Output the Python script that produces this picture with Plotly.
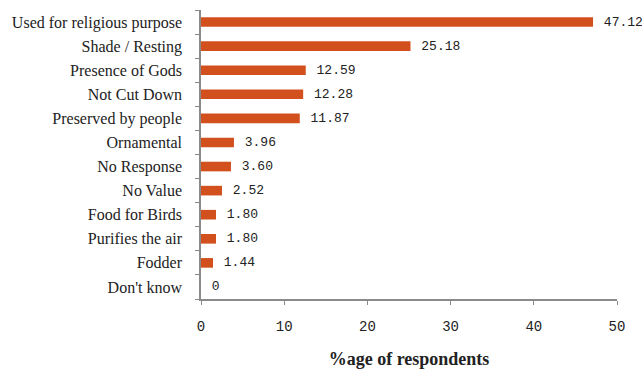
import plotly.graph_objects as go

# Reasons given for protecting the tree, share of respondents (%)
categories = [
    "Used for religious purpose",
    "Shade / Resting",
    "Presence of Gods",
    "Not Cut Down",
    "Preserved by people",
    "Ornamental",
    "No Response",
    "No Value",
    "Food for Birds",
    "Purifies the air",
    "Fodder",
    "Don't know",
]
values = [47.12, 25.18, 12.59, 12.28, 11.87, 3.96, 3.60, 2.52, 1.80, 1.80, 1.44, 0]
x_ticks = [0, 10, 20, 30, 40, 50]

labels = [" " + ("0" if v == 0 else f"{v:.2f}") for v in values]

BAR = "#D2501E"
AXIS = "#8a8a8a"
TEXT = "#222222"
SERIF = "Liberation Serif, DejaVu Serif, serif"
MONO = "Liberation Mono, DejaVu Sans Mono, monospace"

fig = go.Figure(
    go.Bar(
        x=values,
        y=categories,
        orientation="h",
        marker=dict(color=BAR, line=dict(width=0)),
        text=labels,
        textposition="outside",
        constraintext="none",
        cliponaxis=False,
        textfont=dict(family=MONO, size=13, color=TEXT),
    )
)

fig.update_layout(
    width=642,
    height=376,
    margin=dict(l=201, r=25, t=10, b=73),
    paper_bgcolor="white",
    plot_bgcolor="white",
    bargap=0.6,
    showlegend=False,
    font=dict(family=SERIF, size=15, color=TEXT),
)

fig.update_yaxes(
    categoryorder="array",
    categoryarray=categories[::-1],
    showline=True,
    linecolor=AXIS,
    linewidth=1.5,
    ticks="outside",
    tickson="boundaries",
    ticklen=4,
    tickcolor=AXIS,
    showgrid=False,
    ticklabelstandoff=14,
    tickfont=dict(family=SERIF, size=16, color=TEXT),
)

fig.update_xaxes(
    range=[0, 50],
    tickvals=x_ticks,
    showline=True,
    linecolor=AXIS,
    linewidth=1.5,
    ticks="outside",
    ticklen=4,
    tickcolor=AXIS,
    showgrid=False,
    zeroline=False,
    ticklabelstandoff=9,
    tickfont=dict(family=MONO, size=14, color=TEXT),
    title=dict(
        text="<b>%age of respondents</b>",
        font=dict(family=SERIF, size=18, color=TEXT),
        standoff=19,
    ),
)

fig.write_html("out.html")
